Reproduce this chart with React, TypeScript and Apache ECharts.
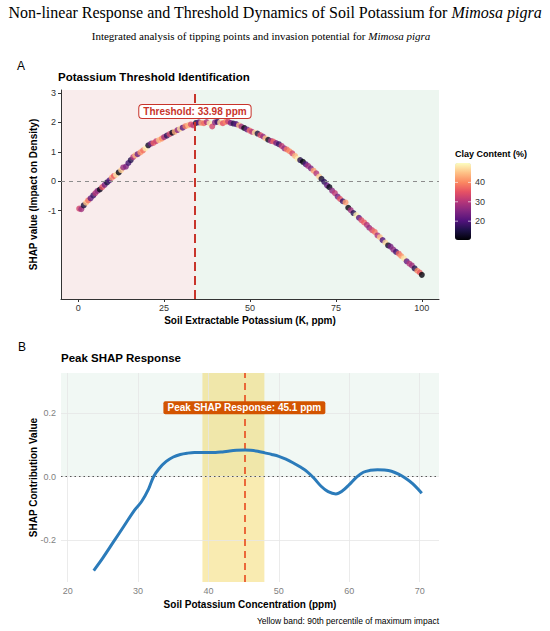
import React, { useEffect, useRef } from "react";
import * as echarts from "echarts";

// ---------- Panel A data ----------
const potassiumA: number[] = [
  0.3, 0.9, 1.6, 2.3, 2.9, 3.6, 4.4, 5.0, 5.6, 6.3, 7.0, 7.7, 8.4, 9.1, 9.8, 10.4, 11.0, 11.8, 12.5, 13.1,
  13.9, 14.6, 15.3, 16.0, 16.6, 17.3, 18.1, 18.9, 19.6, 20.4, 21.2, 21.9, 22.7, 23.5, 24.3, 25.0, 25.8, 26.6, 27.4, 28.1,
  28.9, 29.6, 30.4, 31.2, 32.0, 32.8, 33.5, 34.3, 35.1, 35.8, 36.6, 37.4, 38.2, 39.0, 39.8, 40.5, 41.3, 42.1, 42.9, 43.6,
  44.4, 45.2, 46.0, 46.8, 47.5, 48.3, 49.1, 49.9, 50.6, 51.4, 52.2, 53.0, 53.8, 54.5, 55.3, 56.1, 56.8, 57.6, 58.4, 59.2,
  60.0, 60.7, 61.5, 62.3, 63.1, 63.9, 64.6, 65.4, 66.2, 66.9, 67.7, 68.5, 69.3, 70.1, 70.8, 71.6, 72.4, 73.1, 73.9, 74.7,
  75.5, 76.2, 77.0, 77.8, 78.6, 79.3, 80.1, 80.9, 81.7, 82.4, 83.2, 84.0, 84.7, 85.5, 86.3, 87.1, 87.8, 88.6, 89.4, 90.2,
  90.9, 91.7, 92.5, 93.3, 94.0, 94.8, 95.6, 96.4, 97.1, 97.9, 98.7, 99.4, 100.0,
];
const shapA: number[] = [
  -0.93, -0.95, -0.82, -0.73, -0.65, -0.58, -0.48, -0.40, -0.33, -0.28, -0.20, -0.12, -0.04, 0.03, 0.12, 0.18, 0.22, 0.30, 0.38, 0.47,
  0.50, 0.62, 0.72, 0.82, 0.88, 0.92, 0.98, 1.05, 1.12, 1.22, 1.28, 1.30, 1.36, 1.40, 1.45, 1.50, 1.55, 1.60, 1.65, 1.68,
  1.74, 1.78, 1.82, 1.87, 1.90, 1.93, 1.90, 1.98, 2.00, 1.98, 1.97, 2.01, 1.97, 1.86, 2.00, 2.02, 1.99, 1.97, 2.02, 2.03,
  1.98, 1.96, 1.94, 1.90, 1.86, 1.81, 1.76, 1.72, 1.68, 1.65, 1.62, 1.57, 1.52, 1.46, 1.41, 1.37, 1.35, 1.30, 1.26, 1.20,
  1.12, 1.08, 1.02, 0.95, 0.86, 0.76, 0.72, 0.66, 0.58, 0.52, 0.44, 0.36, 0.27, 0.16, 0.08, -0.02, -0.14, -0.20, -0.32, -0.40,
  -0.52, -0.60, -0.68, -0.72, -0.90, -0.98, -1.08, -1.15, -1.24, -1.32, -1.40, -1.48, -1.58, -1.66, -1.72, -1.84, -1.90, -2.00, -2.08, -2.18,
  -2.22, -2.32, -2.40, -2.46, -2.54, -2.62, -2.72, -2.80, -2.86, -2.96, -3.04, -3.10, -3.18,
];
const clayA: number[] = [
  33, 28, 14, 45, 38, 22, 18, 30, 26, 12, 35, 24, 15, 20, 42, 36, 48, 11, 46, 27,
  25, 19, 16, 30, 44, 23, 41, 38, 49, 13, 24, 36, 32, 45, 40, 28, 17, 33, 12, 43,
  26, 47, 21, 39, 44, 34, 31, 14, 22, 42, 37, 29, 48, 33, 26, 18, 46, 35, 40, 32,
  24, 16, 21, 44, 28, 12, 23, 37, 30, 47, 15, 34, 27, 45, 13, 29, 36, 24, 18, 31,
  27, 38, 40, 33, 44, 49, 16, 11, 20, 28, 25, 42, 30, 46, 14, 17, 22, 12, 26, 31,
  24, 35, 18, 42, 11, 28, 16, 49, 21, 34, 36, 30, 27, 33, 38, 29, 45, 20, 47, 13,
  24, 26, 19, 37, 41, 48, 22, 30, 28, 16, 40, 36, 11,
];
const THRESHOLD = 33.98;
const thresholdLabel = "Threshold: 33.98 ppm";
const xTicksA = [0, 25, 50, 75, 100];
const yTicksA = [-1, 0, 1, 2, 3];
const clayTicks = [20, 30, 40];

// ---------- Panel B data ----------
const potassiumB: number[] = [
  23.7, 25, 26.5, 28, 29.5, 30.5, 31.5, 32.2, 33, 34, 35, 36, 37, 38, 39, 40, 41, 42, 43, 44,
  45.2, 46, 47, 48, 49, 50, 51, 52, 53, 54, 55, 56, 57, 58.1, 59, 60, 61, 62, 63, 64,
  65, 66, 67, 68, 69, 70.3,
];
const shapB: number[] = [
  -0.295, -0.255, -0.205, -0.155, -0.105, -0.078, -0.038, 0.0, 0.026, 0.048, 0.062, 0.070, 0.074, 0.076, 0.076, 0.076, 0.076, 0.078, 0.081, 0.083,
  0.084, 0.083, 0.080, 0.075, 0.070, 0.064, 0.055, 0.044, 0.031, 0.016, -0.005, -0.030, -0.047, -0.054, -0.045, -0.025, -0.002, 0.014, 0.020, 0.022,
  0.021, 0.017, 0.008, -0.005, -0.022, -0.052,
];
const PEAK = 45.1;
const peakLabel = "Peak SHAP Response: 45.1 ppm";
const BAND: [number, number] = [39.14, 47.94];
const xTicksB = [20, 30, 40, 50, 60, 70];
const yTicksB = [-0.2, 0, 0.2];

const SANS = "'Liberation Sans', Arial, sans-serif";
const SERIF = "'Liberation Serif', 'Times New Roman', serif";
const MAGMA = ["#000004", "#1D1147", "#51127C", "#822681", "#B63679", "#E65164", "#FB8861", "#FEC287", "#FCFDBF"];

export default function App() {
  const ref = useRef<HTMLDivElement>(null);
  useEffect(() => {
    if (!ref.current) return;
    const chart = echarts.init(ref.current, undefined, { renderer: "svg" });
    const pointsA = potassiumA.map((x, i) => [x, shapA[i], clayA[i]]);
    const lineB = potassiumB.map((x, i) => [x, shapB[i]]);
    const yMinB = -0.331;
    const yMaxB = 0.326;
    const barTop = 163;
    const barH = 77;
    const clayMin = 10.3;
    const clayMax = 50;
    const clayY = (v: number) => barTop + ((clayMax - v) / (clayMax - clayMin)) * barH;

    const t = (text: string, left: number, top: number, size: number, weight: string, extra: any = {}) => ({
      text, left, top, padding: 0,
      textStyle: { fontFamily: SANS, fontWeight: weight, fontSize: size, color: "#000" },
      ...extra,
    });

    const option: any = {
      animation: false,
      backgroundColor: "#ffffff",
      textStyle: { fontFamily: SANS },
      title: [
        {
          text: "Non-linear Response and Threshold Dynamics of Soil Potassium for {i|Mimosa pigra}",
          left: "center",
          top: 4,
          padding: 0,
          textStyle: {
            fontFamily: SERIF, fontWeight: "normal", fontSize: 16, color: "#000",
            rich: { i: { fontFamily: SERIF, fontStyle: "italic", fontSize: 16, color: "#000" } },
          },
        },
        t("A", 17, 60, 12, "normal"),
        t("Potassium Threshold Identification", 58, 71, 11.5, "bold"),
        t("B", 18, 341, 12, "normal"),
        t("Peak SHAP Response", 61, 352, 11.5, "bold"),
        { ...t("Yellow band: 90th percentile of maximum impact", 0, 616, 8.5, "normal"), left: undefined, right: 111 },
        t("Clay Content (%)", 455, 149, 9, "bold"),
      ],
      grid: [
        { left: 61, top: 90, width: 378, height: 209, containLabel: false },
        { left: 61, top: 373, width: 378, height: 209, containLabel: false },
      ],
      xAxis: [
        {
          gridIndex: 0, type: "value", min: -5, max: 105,
          name: "Soil Extractable Potassium (K, ppm)", nameLocation: "middle", nameGap: 16, nameMoveOverlap: false,
          nameTextStyle: { fontFamily: SANS, fontWeight: "bold", fontSize: 10, color: "#000" },
          axisLine: { show: true, onZero: false, lineStyle: { color: "#333", width: 1 } },
          axisTick: { show: true, length: 3, customValues: xTicksA, lineStyle: { color: "#333" } },
          axisLabel: { customValues: xTicksA, margin: 4, fontSize: 9, color: "#333", fontFamily: SANS },
          splitLine: { show: false },
        },
        {
          gridIndex: 1, type: "value", min: 19.05, max: 72.75,
          name: "Soil Potassium Concentration (ppm)", nameLocation: "middle", nameGap: 17, nameMoveOverlap: false,
          nameTextStyle: { fontFamily: SANS, fontWeight: "bold", fontSize: 10, color: "#000" },
          axisLine: { show: false, onZero: false },
          axisTick: { show: false },
          axisLabel: { customValues: xTicksB, margin: 4, fontSize: 9, color: "#7f7f7f", fontFamily: SANS },
          splitLine: { show: false },
        },
      ],
      yAxis: [
        {
          gridIndex: 0, type: "value", min: -4.0, max: 3.1,
          name: "SHAP value (Impact on Density)", nameLocation: "middle", nameGap: 23, nameMoveOverlap: false,
          nameTextStyle: { fontFamily: SANS, fontWeight: "bold", fontSize: 10, color: "#000" },
          axisLine: { show: true, onZero: false, lineStyle: { color: "#333", width: 1 } },
          axisTick: { show: true, length: 3, customValues: yTicksA, lineStyle: { color: "#333" } },
          axisLabel: { customValues: yTicksA, margin: 5, fontSize: 9, color: "#333", fontFamily: SANS },
          splitLine: { show: false },
        },
        {
          gridIndex: 1, type: "value", min: yMinB, max: yMaxB,
          name: "SHAP Contribution Value", nameLocation: "middle", nameGap: 23, nameMoveOverlap: false,
          nameTextStyle: { fontFamily: SANS, fontWeight: "bold", fontSize: 10, color: "#000" },
          axisLine: { show: false, onZero: false },
          axisTick: { show: false },
          axisLabel: {
            customValues: yTicksB, margin: 5, fontSize: 9, color: "#7f7f7f", fontFamily: SANS,
            formatter: (v: number) => v.toFixed(1),
          },
          splitLine: { show: false },
        },
      ],
      visualMap: {
        type: "continuous",
        min: clayMin,
        max: clayMax,
        dimension: 2,
        seriesIndex: 1,
        calculable: false,
        show: true,
        left: 455,
        top: barTop,
        itemWidth: 16,
        itemHeight: barH,
        padding: 0,
        text: null,
        inRange: { color: MAGMA },
      },
      series: [
        // 0: panel A backgrounds + reference lines
        {
          type: "line", xAxisIndex: 0, yAxisIndex: 0, data: [], silent: true,
          markArea: {
            silent: true, z: 0,
            data: [
              [{ xAxis: -5, itemStyle: { color: "#F9ECEC" } }, { xAxis: THRESHOLD }],
              [{ xAxis: THRESHOLD, itemStyle: { color: "#EDF6F0" } }, { xAxis: 105 }],
            ],
          },
          markLine: {
            silent: true, symbol: "none", z: 5,
            label: { show: false },
            data: [
              { yAxis: 0, lineStyle: { color: "#8c8c8c", type: [4, 4], width: 1 } },
              { xAxis: THRESHOLD, lineStyle: { color: "#C8342B", type: [9, 5], width: 2 } },
            ],
          },
        },
        // 1: panel A points
        {
          type: "scatter", xAxisIndex: 0, yAxisIndex: 0, data: pointsA,
          symbolSize: 6, itemStyle: { opacity: 0.8 }, z: 3,
        },
        // 2: threshold label
        {
          type: "scatter", xAxisIndex: 0, yAxisIndex: 0, data: [[THRESHOLD, 2.37]],
          symbolSize: 0, z: 10, silent: true,
          itemStyle: { opacity: 1 },
          label: {
            show: true, position: "inside", formatter: thresholdLabel, opacity: 1,
            backgroundColor: "#ffffff", borderColor: "#C8342B", borderWidth: 1, borderRadius: 3,
            padding: [2, 4, 1, 4], color: "#C8342B", fontWeight: "bold", fontSize: 10, fontFamily: SANS,
          },
        },
        // 3: panel B backgrounds
        {
          type: "line", xAxisIndex: 1, yAxisIndex: 1, data: [], silent: true,
          markArea: {
            silent: true, z: 0,
            data: [
              [{ yAxis: 0, itemStyle: { color: "#F1F8F4" } }, { yAxis: yMaxB }],
              [{ xAxis: BAND[0], itemStyle: { color: "rgba(240,205,60,0.4)" } }, { xAxis: BAND[1] }],
            ],
          },
        },
        // 4: panel B grid lines
        {
          type: "line", xAxisIndex: 1, yAxisIndex: 1, data: [], silent: true,
          markLine: {
            silent: true, symbol: "none", z: 1,
            label: { show: false },
            lineStyle: { color: "#e6e6e6", type: "solid", width: 0.8 },
            data: [
              ...xTicksB.map((v) => ({ xAxis: v })),
              ...yTicksB.map((v) => ({ yAxis: v })),
            ],
          },
        },
        // 5: panel B reference lines
        {
          type: "line", xAxisIndex: 1, yAxisIndex: 1, data: [], silent: true,
          markLine: {
            silent: true, symbol: "none", z: 3,
            label: { show: false },
            data: [
              { yAxis: 0, lineStyle: { color: "#555", type: [1.5, 3], width: 1.2 } },
              { xAxis: PEAK, lineStyle: { color: "#E8491D", type: [7, 5], width: 1.6 } },
            ],
          },
        },
        // 6: panel B curve
        {
          type: "line", xAxisIndex: 1, yAxisIndex: 1, data: lineB, smooth: 0.35,
          showSymbol: false, z: 4,
          lineStyle: { color: "#2B7BBA", width: 3 },
          itemStyle: { color: "#2B7BBA" },
        },
        // 7: peak label
        {
          type: "scatter", xAxisIndex: 1, yAxisIndex: 1, data: [[PEAK, 0.217]],
          symbolSize: 0, z: 10, silent: true,
          itemStyle: { opacity: 1 },
          label: {
            show: true, position: "inside", formatter: peakLabel, opacity: 1,
            backgroundColor: "#D35400", borderRadius: 2,
            padding: [2, 4, 1, 4], color: "#ffffff", fontWeight: "bold", fontSize: 10, fontFamily: SANS,
          },
        },
      ],
      graphic: [
        {
          type: "text",
          x: 261,
          y: 36,
          style: {
            text: "Integrated analysis of tipping points and invasion potential for {i|Mimosa pigra}",
            fontFamily: SERIF, fontSize: 11, fill: "#000",
            align: "center", verticalAlign: "middle",
            rich: { i: { fontFamily: SERIF, fontStyle: "italic", fontSize: 11, fill: "#000" } },
          },
        },
        ...clayTicks.map((v) => ({
          type: "text",
          x: 475,
          y: clayY(v),
          style: { text: String(v), fontSize: 9, fontFamily: SANS, fill: "#333", verticalAlign: "middle" },
        })),
        ...clayTicks.map((v) => ({
          type: "line",
          shape: { x1: 455, x2: 458, y1: clayY(v), y2: clayY(v) },
          style: { stroke: "rgba(255,255,255,0.8)", lineWidth: 0.8 },
          z: 100,
        })),
        ...clayTicks.map((v) => ({
          type: "line",
          shape: { x1: 468, x2: 471, y1: clayY(v), y2: clayY(v) },
          style: { stroke: "rgba(255,255,255,0.8)", lineWidth: 0.8 },
          z: 100,
        })),
      ],
    };
    chart.setOption(option);
    return () => chart.dispose();
  }, []);
  return (
    <div
      ref={ref}
      style={{ position: "absolute", left: 0, top: 0, width: 550, height: 631, background: "#fff" }}
    />
  );
}
